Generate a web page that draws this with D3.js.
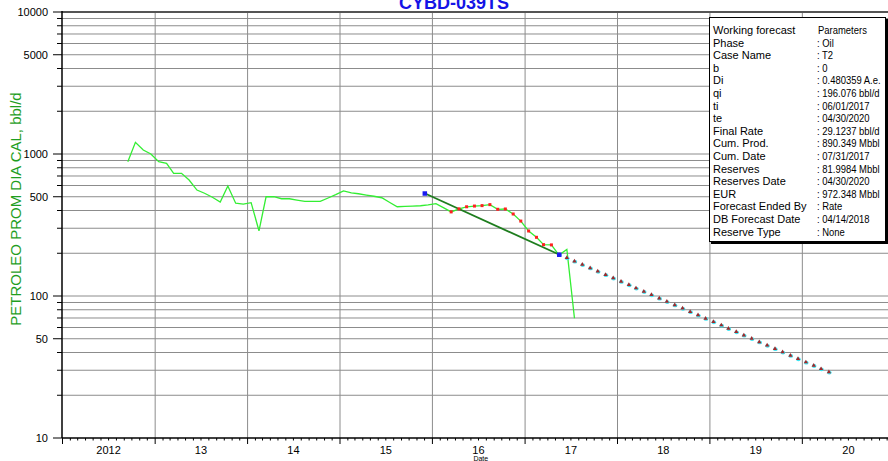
<!DOCTYPE html>
<html>
<head>
<meta charset="utf-8">
<script src="https://cdn.jsdelivr.net/npm/d3@7"></script>
<style>
  body { margin: 0; background: #fff; }
  svg { display: block; font-family: "Liberation Sans", Arial, sans-serif; }
</style>
</head>
<body>
<svg id="chart" width="888" height="461"></svg>
<script>
// ---- data ----
const wellName = "CYBD-039TS";
const yAxisTitle = "PETROLEO PROM DIA CAL, bbl/d";
const xAxisTitle = "Date";

// monthly oil rate, Sep 2012 .. Jul 2017 (bbl/d)
const prodFirstMonth = [2012, 8];
const prodRates = [
  883, 1208, 1067, 1000, 883, 860, 731, 731, 656, 557, 529, 496,
  459, 595, 450, 444, 454, 288, 500, 500, 484, 484, 474, 464,
  464, 464, 490, 517, 549, 533, 525, 514, 504, 492, 457, 425,
  428, 430, 432, 438, 447, 417, 391, 411, 425, 430, 433, 440,
  408, 410, 378, 337, 287, 259, 230, 229, 194, 213, 69.7
];
// months used for the decline fit (Mar 2016 .. May 2017)
const fitFirstMonth = [2016, 2];
const fitLastMonth = [2017, 4];

// fitted decline line (start of fit window -> forecast start)
const fitLineDates = ["2015-12-01", "2017-05-15"];
const fitLineRates = [529, 196.076];

// exponential forecast, monthly points May 2017 .. Apr 2020 (bbl/d)
const fcFirstMonth = [2017, 4];
const fcRates = [
  196.08, 185.67, 175.81, 166.48, 157.64, 149.27, 141.34, 133.84, 126.73, 120.00,
  113.63, 107.60, 101.88, 96.47, 91.35, 86.50, 81.91, 77.56, 73.44, 69.54,
  65.85, 62.35, 59.04, 55.91, 52.94, 50.13, 47.47, 44.95, 42.56, 40.30,
  38.16, 36.14, 34.22, 32.40, 30.68, 29.12
];

const yearLabels = ["2012", "13", "14", "15", "16", "17", "18", "19", "20"];
const yTickLabels = [10, 50, 100, 500, 1000, 5000, 10000];

const legendRows = [
  ["Working forecast", "Parameters"],
  ["Phase", ": Oil"],
  ["Case Name", ": T2"],
  ["b", ": 0"],
  ["Di", ": 0.480359 A.e."],
  ["qi", ": 196.076 bbl/d"],
  ["ti", ": 06/01/2017"],
  ["te", ": 04/30/2020"],
  ["Final Rate", ": 29.1237 bbl/d"],
  ["Cum. Prod.", ": 890.349 Mbbl"],
  ["Cum. Date", ": 07/31/2017"],
  ["Reserves", ": 81.9984 Mbbl"],
  ["Reserves Date", ": 04/30/2020"],
  ["EUR", ": 972.348 Mbbl"],
  ["Forecast Ended By", ": Rate"],
  ["DB Forecast Date", ": 04/14/2018"],
  ["Reserve Type", ": None"]
];

// ---- layout ----
const plotLeft = 62, plotTop = 12, plotBottom = 438, plotRight = 888;

const svg = d3.select("#chart");

const x = d3.scaleTime()
  .domain([new Date(2012, 0, 1), new Date(2021, 0, 1)])
  .range([62.5, 895]);
const y = d3.scaleLog().domain([10, 10000]).range([plotBottom, plotTop]);

const midMonth = m => d3.timeDay.offset(m, 14);

const prodStart = new Date(prodFirstMonth[0], prodFirstMonth[1], 1);
const prodMonths = d3.timeMonth.range(prodStart, d3.timeMonth.offset(prodStart, prodRates.length));
const prod = prodMonths.map((m, i) => ({ date: midMonth(m), month: m, v: prodRates[i] }));
const fitStart = new Date(fitFirstMonth[0], fitFirstMonth[1], 1);
const fitEnd = new Date(fitLastMonth[0], fitLastMonth[1], 1);
const fitPts = prod.filter(d => d.month >= fitStart && d.month <= fitEnd);

const fcStart = new Date(fcFirstMonth[0], fcFirstMonth[1], 1);
const fcMonths = d3.timeMonth.range(fcStart, d3.timeMonth.offset(fcStart, fcRates.length));
const fc = fcMonths.map((m, i) => ({ date: midMonth(m), v: fcRates[i] }));

const parseDay = d3.timeParse("%Y-%m-%d");
const fitLine = fitLineDates.map((d, i) => ({ date: parseDay(d), v: fitLineRates[i] }));

// ---- grid ----
const grid = svg.append("g");
const yGridVals = [];
for (let k = 1; k <= 3; k++) for (let m = 1; m <= 9; m++) yGridVals.push(m * Math.pow(10, k));
yGridVals.push(10000);

grid.selectAll("line.h").data(yGridVals.filter(v => v > 10 && v < 10000)).join("line")
  .attr("x1", plotLeft).attr("x2", plotRight)
  .attr("y1", d => y(d)).attr("y2", d => y(d))
  .attr("stroke", "#8c8c8c").attr("stroke-width", 1);

const yearStarts = d3.timeYear.range(new Date(2013, 0, 1), new Date(2021, 0, 1));
grid.selectAll("line.v").data(yearStarts).join("line")
  .attr("x1", d => x(d)).attr("x2", d => x(d))
  .attr("y1", plotTop).attr("y2", plotBottom)
  .attr("stroke", "#8c8c8c").attr("stroke-width", 1);

// top frame line
svg.append("line").attr("x1", plotLeft).attr("x2", plotRight)
  .attr("y1", y(10000)).attr("y2", y(10000))
  .attr("stroke", "#555").attr("stroke-width", 2);

// ---- axes ----
const axes = svg.append("g");
axes.append("line").attr("x1", plotLeft).attr("x2", plotLeft).attr("y1", plotTop - 1).attr("y2", plotBottom)
  .attr("stroke", "#000").attr("stroke-width", 1.5);
axes.append("line").attr("x1", plotLeft).attr("x2", plotRight).attr("y1", plotBottom).attr("y2", plotBottom)
  .attr("stroke", "#000").attr("stroke-width", 1.5);

axes.selectAll("line.yt").data(yGridVals).join("line")
  .attr("x1", d => yTickLabels.includes(d) ? plotLeft - 9 : plotLeft - 5).attr("x2", plotLeft)
  .attr("y1", d => y(d)).attr("y2", d => y(d))
  .attr("stroke", "#000").attr("stroke-width", 1);

axes.selectAll("text.yl").data(yTickLabels).join("text")
  .attr("x", 48).attr("y", d => y(d) + 4)
  .attr("text-anchor", "end").attr("font-size", 11).attr("fill", "#000")
  .text(d => d);

const months = d3.timeMonth.range(new Date(2012, 0, 1), new Date(2021, 0, 1));
axes.selectAll("line.xt").data(months).join("line")
  .attr("x1", d => x(d)).attr("x2", d => x(d))
  .attr("y1", plotBottom)
  .attr("y2", d => d.getMonth() === 0 ? plotBottom + 6 : plotBottom + 2.5)
  .attr("stroke", "#000").attr("stroke-width", 1);

const yearMids = d3.timeYear.range(new Date(2012, 0, 1), new Date(2021, 0, 1))
  .map(d => new Date(d.getFullYear(), 6, 1));
axes.selectAll("text.xl").data(yearMids).join("text")
  .attr("x", d => x(d)).attr("y", 454)
  .attr("text-anchor", "middle").attr("font-size", 11).attr("fill", "#000")
  .text((d, i) => yearLabels[i]);

axes.append("text").attr("x", x(new Date(2016, 6, 10))).attr("y", 460.5)
  .attr("text-anchor", "middle").attr("font-size", 7).attr("fill", "#000").text(xAxisTitle);

svg.append("text")
  .attr("transform", "translate(21,209) rotate(-90)")
  .attr("text-anchor", "middle").attr("font-size", 15).attr("fill", "#1f9e1f")
  .text(yAxisTitle);

svg.append("text").attr("x", 454).attr("y", 9)
  .attr("text-anchor", "middle").attr("font-size", 18).attr("font-weight", "bold")
  .attr("fill", "#1414e6").text(wellName);

// ---- marks ----
const plot = svg.append("g");
const line = d3.line().x(d => x(d.date)).y(d => y(d.v));

plot.append("path").datum(prod).attr("d", line)
  .attr("fill", "none").attr("stroke", "#33ee33").attr("stroke-width", 1.3);

plot.append("path").datum(fitLine).attr("d", line)
  .attr("fill", "none").attr("stroke", "#1e7d1e").attr("stroke-width", 1.8);

plot.selectAll("rect.fit").data(fitPts).join("rect")
  .attr("x", d => x(d.date) - 1.5).attr("y", d => y(d.v) - 1.5)
  .attr("width", 3).attr("height", 3).attr("fill", "#ff2020");

const fcG = plot.selectAll("g.fc").data(fc).join("g")
  .attr("transform", d => `translate(${x(d.date)},${y(d.v)})`);
fcG.append("ellipse").attr("cx", 0.4).attr("cy", 0.5).attr("rx", 2.3).attr("ry", 1.9).attr("fill", "#3fe4f2");
fcG.append("path").attr("d", d3.symbol(d3.symbolTriangle, 8)()).attr("fill", "#a3282a");

plot.selectAll("rect.ends").data(fitLine).join("rect")
  .attr("x", d => x(d.date) - 2).attr("y", d => y(d.v) - 2)
  .attr("width", 4.5).attr("height", 4.5).attr("fill", "#1a1af0");

// ---- parameter box ----
const box = svg.append("g");
box.append("rect").attr("x", 711).attr("y", 19).attr("width", 177).attr("height", 225).attr("fill", "#000");
box.append("rect").attr("x", 709.5).attr("y", 17.5).attr("width", 176).attr("height", 224)
  .attr("fill", "#fff").attr("stroke", "#000").attr("stroke-width", 1);
const rows = box.selectAll("g.row").data(legendRows).join("g")
  .attr("transform", (d, i) => `translate(0,${34 + i * 12.6})`);
rows.append("text").attr("x", 713).attr("font-size", 11).attr("fill", "#000").text(d => d[0]);
// value column is set slightly condensed so the longest entries fit the box
rows.append("text")
  .attr("transform", (d, i) => `translate(${i === 0 ? 818 : 817},0) scale(0.86,1)`)
  .attr("font-size", 11).attr("fill", "#000").text(d => d[1]);
</script>
</body>
</html>
